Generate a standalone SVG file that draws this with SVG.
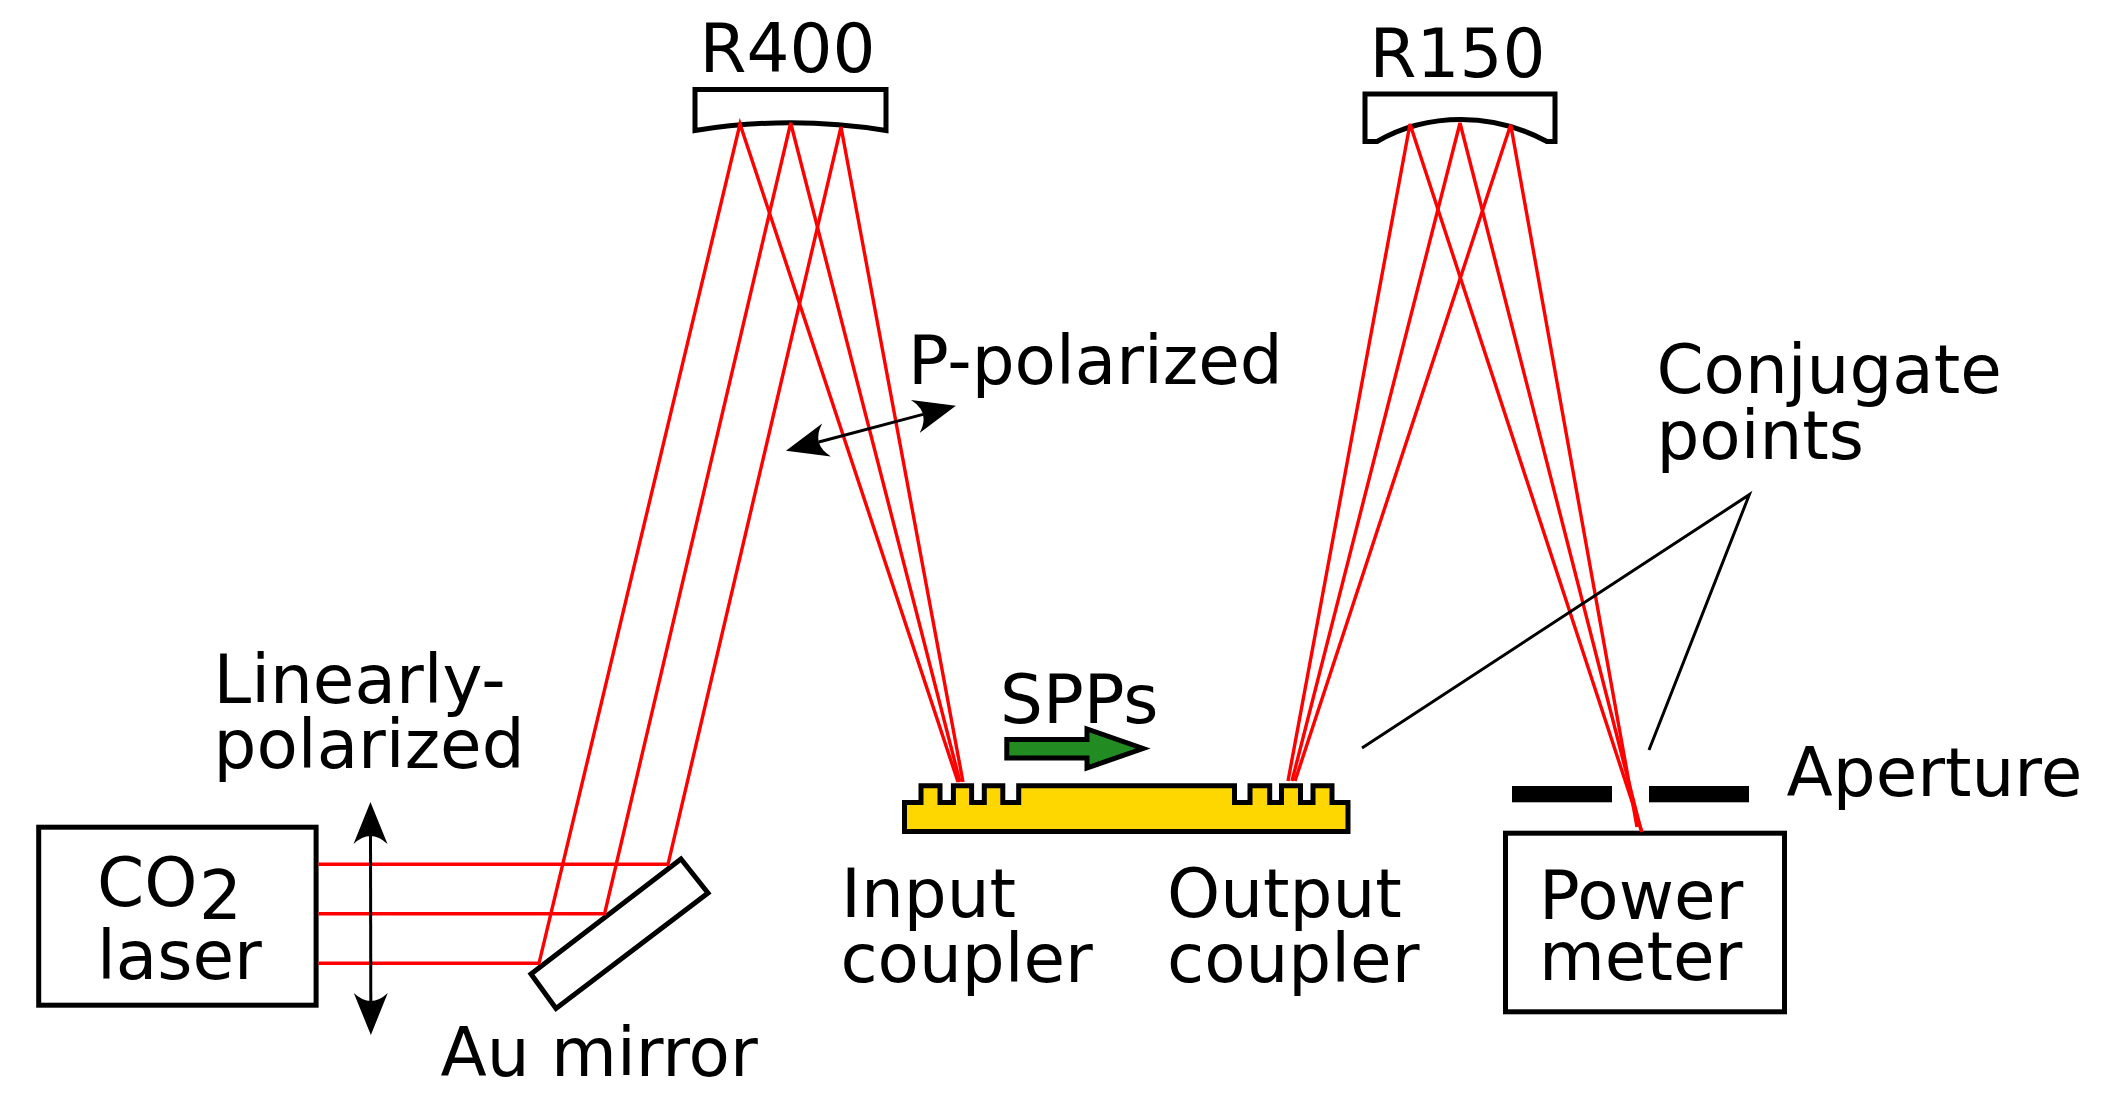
<svg xmlns="http://www.w3.org/2000/svg" width="2115" height="1102" viewBox="0 0 2115 1102">
<style>
text{font-family:"DejaVu Sans",sans-serif;font-size:67.6px;fill:#000}
.box{fill:#fff;stroke:#000;stroke-width:5}
.ray{fill:none;stroke:#f00;stroke-width:3.4}
.lead{fill:none;stroke:#000;stroke-width:3}
</style>
<defs>
<marker id="head" viewBox="0 -18 44 36" markerWidth="44" markerHeight="36" markerUnits="userSpaceOnUse" refX="8" refY="0" orient="auto-start-reverse">
<path d="M0,-17 L42,0 L0,17 Q16,0 0,-17Z" fill="#000"/>
</marker>
</defs>
<rect width="2115" height="1102" fill="#fff"/>
<g id="laser">
<rect class="box" x="38.700" y="827.200" width="277.400" height="178"/>
<text x="97" y="905.500">CO</text>
<text x="199" y="919">2</text>
<text x="97" y="978.500">laser</text>
</g>
<g id="au-mirror">
<path class="box" d="M681,859L708,893L556,1008.500L531,974Z"/>
<text x="440.500" y="1075.500">Au mirror</text>
</g>
<g id="r400">
<path class="box" d="M695,89.500H886V130.500Q790.500,115 695,130.500Z"/>
<text x="699.600" y="71.800">R400</text>
</g>
<g id="r150">
<path class="box" d="M1365,94H1555V141.500H1547C1520,127 1490,119.500 1461,119.500S1402,127 1377,141.500H1365Z"/>
<text x="1369.600" y="76.500">R150</text>
</g>
<g id="sample">
<path d="M904.500,831.500V802.500H921V785.700H940V802.500H953.400V785.700H971.600V802.500H984.300V785.700H1002.800V802.500H1018.700V785.700H1234.500V802.500H1250V785.700H1269.700V802.500H1281.500V785.700H1300.500V802.500H1313V785.700H1332V802.500H1348V831.500Z" fill="#ffd700" stroke="#000" stroke-width="5"/>
</g>
<g id="spp-arrow">
<path d="M1006.800,739.500H1087V729L1143,748.500L1087,768V758H1006.800Z" fill="#228b22" stroke="#000" stroke-width="5"/>
<text x="1000" y="722.500">SPPs</text>
</g>
<g id="labels">
<text x="213.600" y="702.500">Linearly-</text>
<text x="213.600" y="768.200">polarized</text>
<text x="908" y="384">P-polarized</text>
<text x="841" y="916.500">Input</text>
<text x="840.400" y="982.200">coupler</text>
<text x="1167" y="916.500">Output</text>
<text x="1167" y="982.200">coupler</text>
<text x="1656.400" y="393.200">Conjugate</text>
<text x="1656.400" y="458.800">points</text>
</g>
<g id="aperture">
<rect x="1512" y="786" width="100" height="16.300"/>
<rect x="1649" y="786" width="100" height="16.300"/>
<text x="1786.500" y="796">Aperture</text>
</g>
<g id="power-meter">
<rect class="box" x="1505.500" y="833.200" width="279" height="178.600"/>
<text x="1539" y="918.500">Power</text>
<text x="1539" y="979.500">meter</text>
</g>
<g id="connectors">
<g id="rays-in">
<path class="ray" d="M318.500,864.300H668L841,127L963,782"/>
<path class="ray" d="M318.500,913.700H604.600L790.700,123L960,782"/>
<path class="ray" d="M318.500,963.300H539L740,124L958,782"/>
</g>
<g id="rays-out">
<path class="ray" d="M1288,781L1410,124L1642,832"/>
<path class="ray" d="M1292,781L1460,123L1641,830"/>
<path class="ray" d="M1295,781L1510.700,124.700L1637,827"/>
</g>
<line id="arrow-linear" class="lead" x1="370.500" y1="836" x2="370.800" y2="1001" marker-start="url(#head)" marker-end="url(#head)"/>
<line id="arrow-p" class="lead" x1="818.800" y1="442" x2="923" y2="414.400" marker-start="url(#head)" marker-end="url(#head)"/>
<path id="leader-conjugate" class="lead" d="M1362,748L1749.300,494.700L1649,750"/>
</g>
</svg>
